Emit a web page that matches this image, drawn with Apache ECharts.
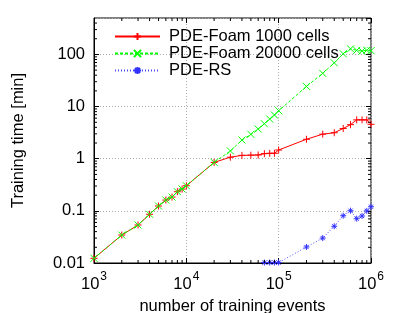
<!DOCTYPE html>
<html>
<head>
<meta charset="utf-8">
<script src="https://cdn.jsdelivr.net/npm/echarts@6/dist/echarts.min.js"></script>
<style>
html,body{margin:0;padding:0;background:#fff;}
#c{width:399px;height:313px;}
</style>
</head>
<body>
<div id="c"></div>
<script>
var foamX = [1000,2000,3000,4000,5000,6000,7000,8000,9000,10000,20000,30000,40000,50000,60000,70000,80000,90000,100000,200000,300000,400000,500000,600000,700000,800000,900000,1000000];
var foam1000 = [0.0123,0.0344,0.0536,0.086,0.124,0.161,0.184,0.233,0.262,0.303,0.85,1.07,1.16,1.17,1.18,1.25,1.27,1.27,1.47,2.36,2.96,3.15,3.8,4.5,5.56,5.56,5.56,4.57];
var foam20000 = [0.0123,0.0344,0.0536,0.086,0.124,0.161,0.184,0.233,0.262,0.303,0.85,1.41,2.28,2.94,3.71,4.69,5.77,6.89,8.33,24.4,43.4,69,103,128,120,116,120,118];
var rsX = [70000,80000,90000,100000,200000,300000,400000,500000,600000,700000,800000,900000,1000000];
var rsY = [0.0102,0.0102,0.0102,0.0102,0.0203,0.0301,0.0506,0.0807,0.1007,0.0708,0.0797,0.1,0.12];
var seriesNames = ['PDE-Foam 1000 cells','PDE-Foam 20000 cells','PDE-RS'];
var xMin = 1000, xMax = 1000000, yMin = 0.01, yMax = 500;

function pairs(xs, ys){ return xs.map(function(x,i){ return [x, ys[i]]; }); }

// minor tick values (2..9 x 10^k)
var minorTicks = [];
for (var k = 3; k < 6; k++) for (var m = 2; m <= 9; m++) minorTicks.push([m*Math.pow(10,k), 1, 0]);
for (var k2 = -2; k2 < 3; k2++) for (var m2 = 2; m2 <= 9; m2++) { var v = m2*Math.pow(10,k2); if (v < yMax) minorTicks.push([10000, v, 1]); }

var FONT = 'Liberation Sans';
var FS = 16.5;
var chart = echarts.init(document.getElementById('c'));
function isPow10(v){ var l = Math.log10(v); return Math.abs(l - Math.round(l)) < 1e-6; }

var plusSym = 'path://M5,0 L5,10 M0,5 L10,5';
var xSym = 'path://M0,0 L10,10 M10,0 L0,10';
var starSym = 'path://M5,0 L5,10 M0,5 L10,5 M1.5,1.5 L8.5,8.5 M8.5,1.5 L1.5,8.5';

chart.setOption({
  backgroundColor: '#fff',
  animation: false,
  textStyle: { fontFamily: FONT },
  grid: { left: 94, right: 28, top: 18, bottom: 50, show: true, borderColor: '#000', borderWidth: 1, outerBoundsMode: 'none', containLabel: false },
  legend: {
    data: seriesNames,
    orient: 'vertical', left: 109, top: 23, padding: 5,
    itemWidth: 45, itemHeight: 9, itemGap: 0,
    textStyle: { fontFamily: FONT, fontSize: FS, color: '#000', lineHeight: 16, padding: [0,0,0,4] }
  },
  xAxis: [{
    type: 'log', min: xMin, max: xMax, logBase: 10,
    name: 'number of training events', nameLocation: 'middle', nameGap: 29,
    nameTextStyle: { fontFamily: FONT, fontSize: FS, color: '#000' },
    axisLine: { lineStyle: { color: '#000' } },
    axisTick: { inside: true, length: 5, lineStyle: { color: '#000' } },
    splitLine: { show: true, lineStyle: { color: '#aaa', type: [1,2] } },
    axisLabel: {
      margin: 8, color: '#000',
      formatter: function(v){ if (!isPow10(v)) return ''; return '{b|10}{s|' + Math.round(Math.log10(v)) + '}'; },
      rich: {
        b: { fontFamily: FONT, fontSize: FS, color: '#000', verticalAlign: 'bottom', lineHeight: 22 },
        s: { fontFamily: FONT, fontSize: 12, color: '#000', verticalAlign: 'top', lineHeight: 22, padding: [0,0,0,1] }
      }
    }
  }, {
    type: 'log', min: xMin, max: xMax, position: 'top',
    axisLine: { show: false }, axisLabel: { show: false }, splitLine: { show: false },
    axisTick: { inside: true, length: 5, lineStyle: { color: '#000' } }
  }],
  yAxis: [{
    type: 'log', min: yMin, max: yMax, logBase: 10,
    name: 'Training time [min]', nameLocation: 'middle', nameGap: 67, nameRotate: 90,
    nameTextStyle: { fontFamily: FONT, fontSize: FS, color: '#000' },
    axisLine: { show: true, lineStyle: { color: '#000' } },
    axisTick: { inside: true, length: 5, lineStyle: { color: '#000' } },
    splitLine: { show: true, lineStyle: { color: '#aaa', type: [1,2] } },
    axisLabel: {
      margin: 9, color: '#000', fontFamily: FONT, fontSize: FS,
      showMaxLabel: false,
      formatter: function(v){ if (!isPow10(v)) return ''; return String(Number(v.toPrecision(6))); }
    }
  }, {
    type: 'log', min: yMin, max: yMax, position: 'right',
    axisLine: { show: false }, axisLabel: { show: false }, splitLine: { show: false },
    axisTick: { inside: true, length: 5, lineStyle: { color: '#000' } }
  }],
  series: [{
    name: seriesNames[0], type: 'line', data: pairs(foamX, foam1000),
    symbol: plusSym, symbolSize: 7, showAllSymbol: true,
    lineStyle: { color: '#ff0000', width: 1 },
    itemStyle: { color: 'rgba(0,0,0,0)', borderColor: '#ff0000', borderWidth: 1 },
    z: 3
  }, {
    name: seriesNames[1], type: 'line', data: pairs(foamX, foam20000),
    symbol: xSym, symbolSize: 7, showAllSymbol: true,
    lineStyle: { color: '#00ff00', width: 1, type: [3,2] },
    itemStyle: { color: 'rgba(0,0,0,0)', borderColor: '#00ff00', borderWidth: 1 },
    z: 4
  }, {
    name: seriesNames[2], type: 'line', data: pairs(rsX, rsY),
    symbol: starSym, symbolSize: 6, showAllSymbol: true,
    lineStyle: { color: '#4d4dff', width: 1, type: [1,2] },
    itemStyle: { color: 'rgba(0,0,0,0)', borderColor: '#3333ff', borderWidth: 1 },
    z: 2
  }, {
    type: 'custom', data: minorTicks, silent: true, clip: false, z: 5,
    renderItem: function(params, api){
      var flag = api.value(2), v, a, b, len = 3;
      if (flag === 0) {
        v = api.value(0);
        a = api.coord([v, yMin]); b = api.coord([v, yMax]);
        return { type: 'group', children: [
          { type: 'line', shape: { x1: a[0], y1: a[1], x2: a[0], y2: a[1]-len }, style: { stroke: '#000', lineWidth: 1 } },
          { type: 'line', shape: { x1: b[0], y1: b[1], x2: b[0], y2: b[1]+len }, style: { stroke: '#000', lineWidth: 1 } }
        ]};
      } else {
        v = api.value(1);
        a = api.coord([xMin, v]); b = api.coord([xMax, v]);
        return { type: 'group', children: [
          { type: 'line', shape: { x1: a[0], y1: a[1], x2: a[0]+len, y2: a[1] }, style: { stroke: '#000', lineWidth: 1 } },
          { type: 'line', shape: { x1: b[0], y1: b[1], x2: b[0]-len, y2: b[1] }, style: { stroke: '#000', lineWidth: 1 } }
        ]};
      }
    }
  }]
});
</script>
</body>
</html>
